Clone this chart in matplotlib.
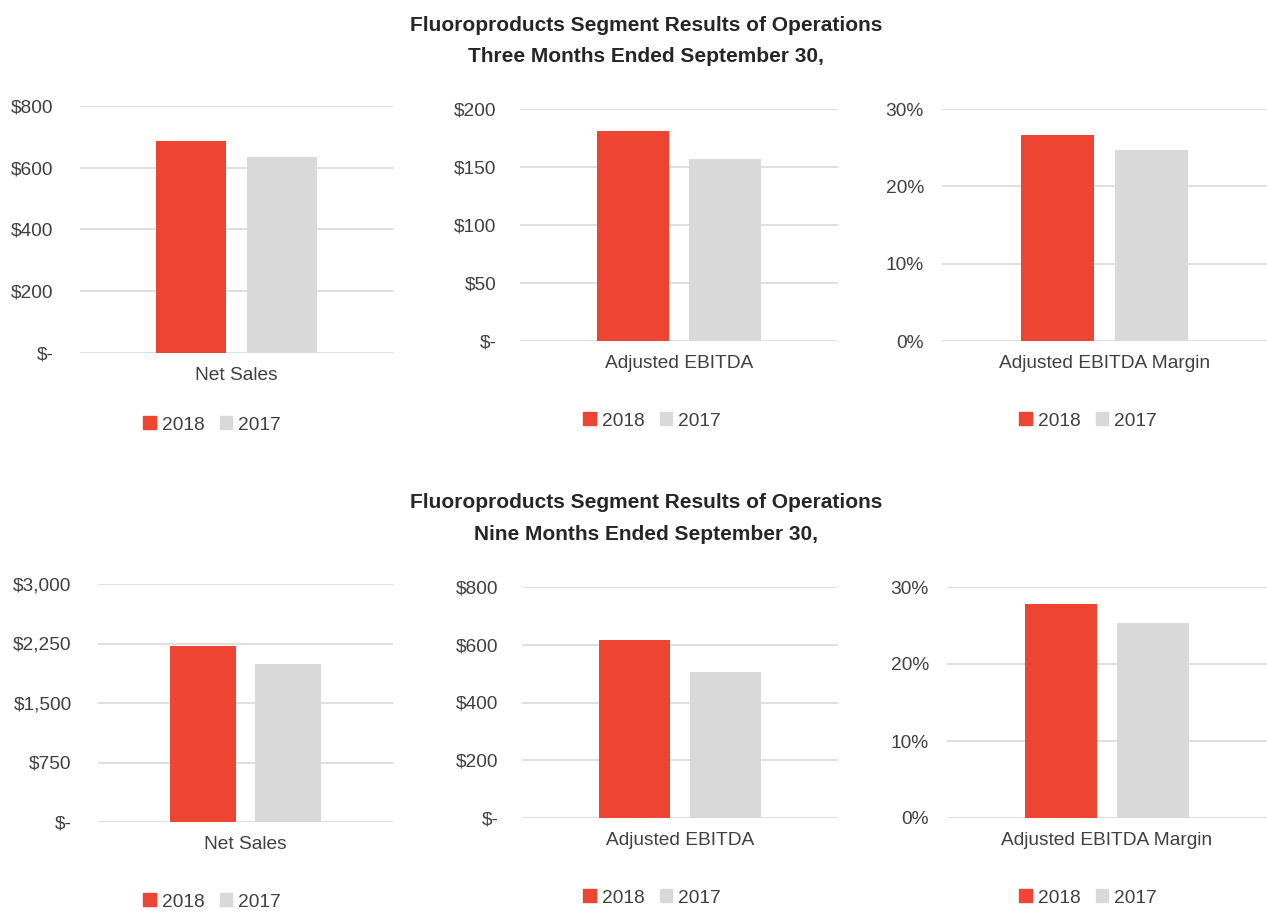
import matplotlib.pyplot as plt
from matplotlib.patches import Patch

# values (in $ millions / percent)
years = ['2018', '2017']
metrics = ['Net Sales', 'Adjusted EBITDA', 'Adjusted EBITDA Margin']
q3_2018 = [686, 181, 26.7]
q3_2017 = [634, 157, 24.7]
ytd_2018 = [2220, 618, 27.8]
ytd_2017 = [1993, 506, 25.3]

q3_ticks = [[0, 200, 400, 600, 800], [0, 50, 100, 150, 200], [0, 10, 20, 30]]
q3_ticklabels = [['$-', '$200', '$400', '$600', '$800'],
                 ['$-', '$50', '$100', '$150', '$200'],
                 ['0%', '10%', '20%', '30%']]
ytd_ticks = [[0, 750, 1500, 2250, 3000], [0, 200, 400, 600, 800], [0, 10, 20, 30]]
ytd_ticklabels = [['$-', '$750', '$1,500', '$2,250', '$3,000'],
                  ['$-', '$200', '$400', '$600', '$800'],
                  ['0%', '10%', '20%', '30%']]

title_top = 'Fluoroproducts Segment Results of Operations\nThree Months Ended September 30,'
title_bottom = 'Fluoroproducts Segment Results of Operations\nNine Months Ended September 30,'

RED = '#EE4533'
GREY = '#D9D9D9'
TEXT = '#404040'
FS = 13.8

plt.rcParams['font.family'] = ['Liberation Sans Narrow', 'Liberation Sans', 'DejaVu Sans']

W, H = 1267, 911
fig = plt.figure(figsize=(W / 100, H / 100), dpi=100)


def px_axes(x0, y0, x1, y1):
    return fig.add_axes([x0 / W, 1 - y1 / H, (x1 - x0) / W, (y1 - y0) / H])


# pixel boxes for the plot areas, plus tick pad and legend centre
top_boxes = [(80, 106, 393, 353, 19), (520, 109, 838, 341, 17), (942, 109, 1267, 341, 13)]
bot_boxes = [(98, 584, 393, 822, 19), (522, 587, 838, 818, 17), (947, 587, 1267, 818, 13)]
top_leg = [(212, 425), (652, 421), (1088, 421)]
bot_leg = [(212, 902), (652, 898), (1088, 898)]


def draw_row(boxes, legs, v18, v17, ticks, ticklabels):
    for i, (x0, y0, x1, y1, pad) in enumerate(boxes):
        ax = px_axes(x0, y0, x1, y1)
        ax.bar([-0.29], [v18[i]], width=0.45, color=RED, zorder=3)
        ax.bar([0.29], [v17[i]], width=0.45, color=GREY, zorder=3)
        ax.set_xlim(-1, 1)
        ax.set_ylim(0, ticks[i][-1])
        ax.set_yticks(ticks[i])
        ax.set_yticklabels(ticklabels[i])
        ax.set_xticks([0])
        ax.set_xticklabels([metrics[i]])
        ax.tick_params(axis='y', length=0, pad=pad, labelsize=FS, labelcolor=TEXT)
        ax.tick_params(axis='x', length=0, pad=10, labelsize=FS, labelcolor=TEXT)
        ax.grid(axis='y', color='#D9D9D9', linewidth=1.2, zorder=0)
        for s in ax.spines.values():
            s.set_visible(False)
        handles = [Patch(color=RED, label=years[0]), Patch(color=GREY, label=years[1])]
        lx, ly = legs[i]
        fig.legend(handles=handles, loc='center', bbox_to_anchor=(lx / W, 1 - ly / H),
                   ncol=2, frameon=False, fontsize=FS, handlelength=0.65, handleheight=0.65,
                   handletextpad=0.3, columnspacing=0.8, labelcolor=TEXT)


draw_row(top_boxes, top_leg, q3_2018, q3_2017, q3_ticks, q3_ticklabels)
draw_row(bot_boxes, bot_leg, ytd_2018, ytd_2017, ytd_ticks, ytd_ticklabels)

fig.text(646 / W, 1 - 41 / H, title_top, ha='center', va='center', fontsize=15,
         fontweight='bold', color='#262626', linespacing=1.8)
fig.text(646 / W, 1 - 518.5 / H, title_bottom, ha='center', va='center', fontsize=15,
         fontweight='bold', color='#262626', linespacing=1.8)

fig.savefig('out.png', dpi=100, facecolor='white')
